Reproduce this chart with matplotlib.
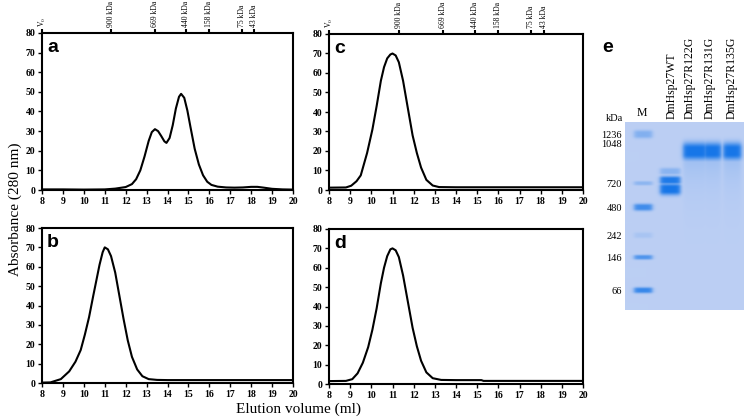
import numpy as np
import matplotlib
matplotlib.use("Agg")
import matplotlib.pyplot as plt

# ---------------- data ----------------
x_a = [8.0, 9.0, 10.0, 11.0, 11.5, 12.0, 12.3, 12.5, 12.7, 12.9, 13.1, 13.25, 13.4, 13.55, 13.7, 13.85, 13.95, 14.1, 14.25, 14.4, 14.55, 14.65, 14.8, 14.95, 15.1, 15.3, 15.5, 15.7, 15.9, 16.1, 16.4, 16.8, 17.2, 17.6, 18.0, 18.3, 18.6, 19.0, 19.5, 20.0]
y_a = [0.3, 0.3, 0.2, 0.3, 0.7, 1.5, 3.0, 5.5, 10.0, 17.0, 25.0, 29.5, 31.0, 30.0, 27.5, 24.8, 24.0, 26.5, 33.0, 41.5, 47.5, 49.0, 47.0, 40.5, 32.0, 21.0, 13.0, 7.5, 4.2, 2.6, 1.7, 1.3, 1.2, 1.3, 1.6, 1.6, 1.2, 0.6, 0.3, 0.2]

x_b = [8.0, 8.4, 8.9, 9.3, 9.6, 9.85, 10.05, 10.25, 10.45, 10.6, 10.75, 10.9, 11.0, 11.15, 11.3, 11.5, 11.7, 11.9, 12.1, 12.3, 12.55, 12.8, 13.1, 13.5, 14.0, 16.0, 18.0, 20.0]
y_b = [0.2, 0.3, 2.0, 6.0, 11.0, 17.0, 25.0, 34.0, 45.0, 53.0, 61.0, 67.5, 70.0, 69.0, 65.5, 57.0, 45.0, 33.0, 22.0, 13.5, 7.0, 3.5, 2.0, 1.6, 1.5, 1.5, 1.5, 1.5]

x_c = [8.0, 8.8, 9.05, 9.3, 9.5, 9.8, 10.05, 10.25, 10.45, 10.6, 10.75, 10.9, 11.0, 11.15, 11.3, 11.5, 11.7, 11.95, 12.15, 12.35, 12.6, 12.9, 13.2, 14.0, 16.0, 18.0, 20.0]
y_c = [1.2, 1.3, 2.2, 4.5, 7.5, 19.0, 31.0, 43.0, 56.0, 63.0, 67.5, 69.5, 70.0, 69.0, 65.5, 56.0, 43.5, 28.0, 19.0, 11.5, 5.2, 2.3, 1.5, 1.4, 1.4, 1.4, 1.4]

x_d = [8.0, 8.8, 9.1, 9.35, 9.6, 9.85, 10.05, 10.25, 10.45, 10.6, 10.75, 10.9, 11.0, 11.15, 11.3, 11.5, 11.7, 11.95, 12.15, 12.35, 12.6, 12.9, 13.3, 14.0, 15.2, 15.3, 17.0, 20.0]
y_d = [1.5, 1.6, 2.5, 5.5, 11.0, 19.0, 28.0, 39.0, 52.0, 60.0, 66.0, 69.5, 70.0, 69.0, 65.5, 56.0, 44.0, 29.0, 19.5, 12.0, 6.0, 3.0, 2.1, 2.0, 2.0, 1.6, 1.6, 1.6]

marker_vol = [8.0, 11.3, 13.4, 14.9, 16.0, 17.55, 18.15]
marker_lbl = ["V$_0$", "900 kDa", "669 kDa", "440 kDa", "158 kDa", "75 kDa", "43 kDa"]

x_ticks = list(range(8, 21))
y_ticks = list(range(0, 81, 10))

# gel (panel e)
gel_lanes = ["M", "DmHsp27WT", "DmHsp27R122G", "DmHsp27R131G", "DmHsp27R135G"]
gel_mw_labels = ["1236", "1048", "720", "480", "242", "146", "66"]
gel_mw_rows = [12, 21, 61, 85, 113, 135, 168]
# bands: (lane index, row, strength, half-height)
band_lane = [0, 0, 0, 0, 0, 0, 1, 1, 1, 2, 3, 4]
band_row = [12, 61, 85, 113, 135, 168, 49, 58, 67, 29, 29, 29]
band_strength = [0.35, 0.28, 0.75, 0.12, 0.65, 0.8, 0.3, 0.95, 1.0, 1.0, 1.0, 1.0]
band_half = [3.5, 1.8, 3.0, 2.5, 2.0, 2.5, 3.0, 3.5, 5.0, 7.5, 7.5, 7.5]

# ---------------- figure ----------------
plt.rcParams["mathtext.fontset"] = "stix"
W, H = 746, 419
fig = plt.figure(figsize=(W / 100, H / 100), dpi=100)

serif = "Liberation Serif"
sans = "Liberation Sans"


def px_axes(l, t, r, b):
    return fig.add_axes([l / W, 1 - b / H, (r - l) / W, (b - t) / H])


def style(ax, letter, xs, ys, top_markers):
    ax.plot(xs, ys, color="black", lw=1.5)
    ax.set_xlim(8, 20)
    ax.set_ylim(0, 80)
    ax.set_xticks(x_ticks)
    ax.set_yticks(y_ticks)
    for s in ax.spines.values():
        s.set_linewidth(1.5)
    ax.tick_params(direction="out", length=3, width=1, pad=2)
    for lab in ax.get_xticklabels() + ax.get_yticklabels():
        lab.set_fontfamily(serif)
        lab.set_fontweight("bold")
        lab.set_fontsize(7)
    ax.text(0.02, 0.96, letter, transform=ax.transAxes, fontsize=14,
            fontweight="bold", fontfamily=sans, va="top", ha="left")
    if top_markers:
        t = ax.twiny()
        t.set_xlim(8, 20)
        t.set_xticks(marker_vol)
        t.set_xticklabels(marker_lbl, rotation=90, fontsize=5.5, fontfamily=serif)
        t.tick_params(direction="out", length=3, width=1.5, pad=1)
        for s in t.spines.values():
            s.set_visible(False)


ax_a = px_axes(42, 33, 293, 190)
ax_b = px_axes(42, 228, 293, 383)
ax_c = px_axes(329, 34, 583, 190)
ax_d = px_axes(329, 229, 583, 384)
style(ax_a, "a", x_a, y_a, True)
style(ax_b, "b", x_b, y_b, False)
style(ax_c, "c", x_c, y_c, True)
style(ax_d, "d", x_d, y_d, False)

fig.text(15 / W, 0.5, "Absorbance (280 nm)", rotation=90, ha="center",
         va="center", fontsize=11, fontfamily=serif)
fig.text(299 / W, 1 - 409 / H, "Elution volume (ml)", ha="center",
         va="center", fontsize=11, fontfamily=serif)

# ---------------- gel ----------------
gw, gh = 119, 188
lane_x = [18, 45, 70, 87, 107]
lane_half = [9, 10, 12, 9, 9]
yy, xx = np.mgrid[0:gh:0.5, 0:gw:0.5]
inten = np.zeros_like(xx)
for ln, row, st, hh in zip(band_lane, band_row, band_strength, band_half):
    cx, hw = lane_x[ln], lane_half[ln]
    fx = 1.0 / (1.0 + np.exp((np.abs(xx - cx) - hw) / 1.2))
    fy = np.exp(-np.maximum(np.abs(yy - row) - hh * 0.4, 0) ** 2 / (2 * (hh * 0.55) ** 2))
    inten = np.maximum(inten, st * fx * fy)
    if ln >= 2:  # smear below the large oligomer bands
        smear = np.where(yy > row, 0.25 * np.exp(-(yy - row) / 25.0), 0)
        inten = np.maximum(inten, smear * fx)
bg = np.array([188, 207, 244]) / 255.0
bc = np.array([22, 118, 232]) / 255.0
img = bg[None, None, :] * (1 - inten[..., None]) + bc[None, None, :] * inten[..., None]

ax_e = px_axes(625, 122, 744, 310)
ax_e.imshow(img, extent=(0, gw, gh, 0), aspect="auto", interpolation="bilinear")
ax_e.set_xlim(0, gw)
ax_e.set_ylim(gh, 0)
for s in ax_e.spines.values():
    s.set_visible(False)
ax_e.set_yticks(gel_mw_rows)
ax_e.set_yticklabels(gel_mw_labels, fontsize=7.5, fontfamily=serif)
ax_e.tick_params(axis="y", length=0, pad=2)
lab_x = [17, 47, 65, 85, 107]
ax_e.xaxis.tick_top()
ax_e.set_xticks(lab_x)
ax_e.set_xticklabels(gel_lanes, fontfamily=serif, fontsize=8.5)
ax_e.tick_params(axis="x", length=0, pad=2)
for i, lab in enumerate(ax_e.get_xticklabels()):
    if i > 0:
        lab.set_rotation(90)
ax_e.text(-2, -4, "kDa", ha="right", va="center", fontsize=7.5, fontfamily=serif)
fig.text(602 / W, 1 - 47 / H, "e", fontsize=14, fontweight="bold",
         fontfamily=sans, ha="left", va="center")

fig.savefig("out.png", dpi=100)
